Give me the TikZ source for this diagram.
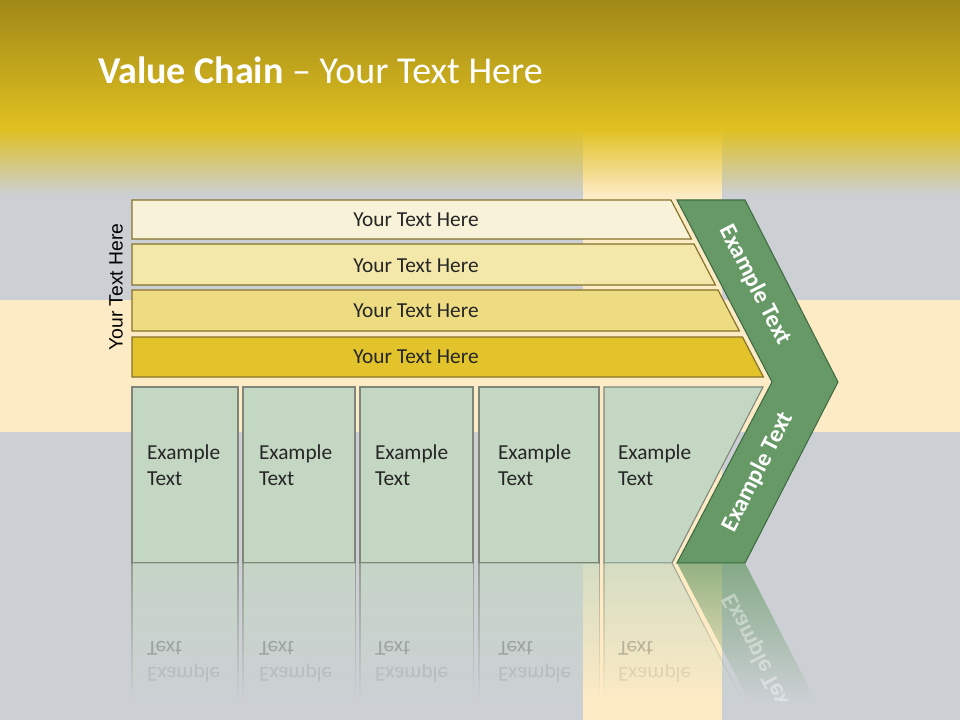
\documentclass[tikz,border=0pt]{standalone}
\usepackage{fontspec}
\setmainfont{Carlito}
\newfontfamily\vfont{Liberation Sans}
\usepackage{graphicx}
\usetikzlibrary{fadings}
\definecolor{bggray}{HTML}{CCD0D4}
\definecolor{bandbeige}{HTML}{FDEBC5}
\definecolor{topdark}{HTML}{A08818}
\definecolor{topyellow}{HTML}{E0C020}
\definecolor{barA}{HTML}{F8F3D8}
\definecolor{barB}{HTML}{F3E7AA}
\definecolor{barC}{HTML}{EEDC82}
\definecolor{barD}{HTML}{E2C32C}
\definecolor{barline}{HTML}{85722A}
\definecolor{boxfill}{HTML}{C4D7C2}
\definecolor{boxline}{HTML}{7F8679}
\definecolor{chevfill}{HTML}{669966}
\definecolor{chevline}{HTML}{3F6B45}
\definecolor{txtdark}{HTML}{262626}
\tikzfading[name=bannerfade, top color=transparent!0, bottom color=transparent!100]
\tikzfading[name=reflfade, top color=transparent!30, bottom color=transparent!100]
\tikzset{
  barshape/.style={draw=barline, line width=0.9pt},
  boxshape/.style={fill=boxfill, draw=boxline, line width=0.8pt},
  chevshape/.style={fill=chevfill, draw=chevline, line width=0.8pt},
  bartext/.style={text=txtdark, font=\fontsize{16}{19}\selectfont},
  boxtext/.style={anchor=base west, text=txtdark, font=\fontsize{16}{19}\selectfont},
  reftext/.style={anchor=base west, text=black, font=\fontsize{16}{19}\selectfont},
  chevtext/.style={text=white, font=\bfseries\fontsize{18}{22}\selectfont},
  reflfill/.style={fill=boxfill, path fading=reflfade},
  refldraw/.style={draw=boxline, line width=0.8pt, path fading=reflfade},
}
\begin{document}
\begin{tikzpicture}[x=0.75pt, y=-0.75pt, every node/.style={inner sep=0pt, outer sep=0pt}]
\useasboundingbox (0,0) rectangle (960,720);
% background
\fill[bggray] (0,0) rectangle (960,720);
\fill[bandbeige] (0,300) rectangle (960,432);
\fill[bandbeige] (583,0) rectangle (722,720);
\shade[top color=topdark, bottom color=topyellow] (0,0) rectangle (960,128);
\fill[topyellow, path fading=bannerfade] (0,128) rectangle (960,195);
% title
\node[anchor=base west, text=white, font=\fontsize{28.5}{34}\selectfont] (title) at (98,84) {\textbf{Value Chain} – Your Text Here};
% vertical label
\node[rotate=90, text=black, font=\vfont\fontsize{14.5}{17}\selectfont] (vlabel) at (116,287) {Your Text Here};
% bars
\draw[barshape, fill=barA] (132,200) -- (671,200) -- (691.4,239) -- (132,239) -- cycle;
\draw[barshape, fill=barB] (132,244) -- (694,244) -- (715.4,285) -- (132,285) -- cycle;
\draw[barshape, fill=barC] (132,290) -- (718,290) -- (739.4,331) -- (132,331) -- cycle;
\draw[barshape, fill=barD] (132,337) -- (742.5,337) -- (763.4,377) -- (132,377) -- cycle;
\node[bartext] (b1) at (416,219.5) {Your Text Here};
\node[bartext] (b2) at (416,266) {Your Text Here};
\node[bartext] (b3) at (416,311) {Your Text Here};
\node[bartext] (b4) at (416,357) {Your Text Here};
% boxes
\draw[boxshape] (132,387) rectangle (238,563);
\draw[boxshape] (243,387) rectangle (355,563);
\draw[boxshape] (360,387) rectangle (473,563);
\draw[boxshape] (479,387) rectangle (599,563);
\draw[boxshape] (604,387) -- (763,387) -- (672,563) -- (604,563) -- cycle;
\foreach \n/\x in {1/147,2/259,3/375,4/498,5/618}{
  \node[boxtext] (ex\n) at (\x,459.3) {Example};
  \node[boxtext] (tx\n) at (\x,485) {Text};
}
% chevron
\draw[chevshape] (677,200) -- (745,200) -- (838,382) -- (745,563) -- (677,563) -- (772,382) -- cycle;
\node[chevtext, rotate=-63] (c1) at (755,285) {Example Text};
\node[chevtext, rotate=63] (c2) at (758,472) {Example Text};
% reflection
\foreach \a/\b in {132/238,243/355,360/473,479/599}{
  \fill[reflfill] (\a,563) rectangle (\b,700);
  \draw[refldraw] (\a,563) -- (\a,700) (\b,563) -- (\b,700);
}
\fill[reflfill] (604,563) -- (672,563) -- (742,700) -- (604,700) -- cycle;
\draw[refldraw] (604,563) -- (604,700) (672,563) -- (742,700);
\fill[chevfill, path fading=reflfade] (677,563) -- (745,563) -- (815.4,700) -- (748.9,700) -- cycle;
\foreach \n/\x in {1/147,2/259,3/375,4/498,5/618}{
  \node[reftext, text opacity=0.22] (rt\n) at (\x,641) {\scalebox{1}[-1]{Text}};
  \node[reftext, text opacity=0.09] (re\n) at (\x,667) {\scalebox{1}[-1]{Example}};
}
\begin{scope}
  \clip (677,563) -- (745,563) -- (815.4,700) -- (748.9,700) -- cycle;
  \node[chevtext, rotate=-63, text opacity=0.4] (rc) at (758,654) {\scalebox{1}[-1]{Example Text}};
\end{scope}
\end{tikzpicture}
\end{document}
